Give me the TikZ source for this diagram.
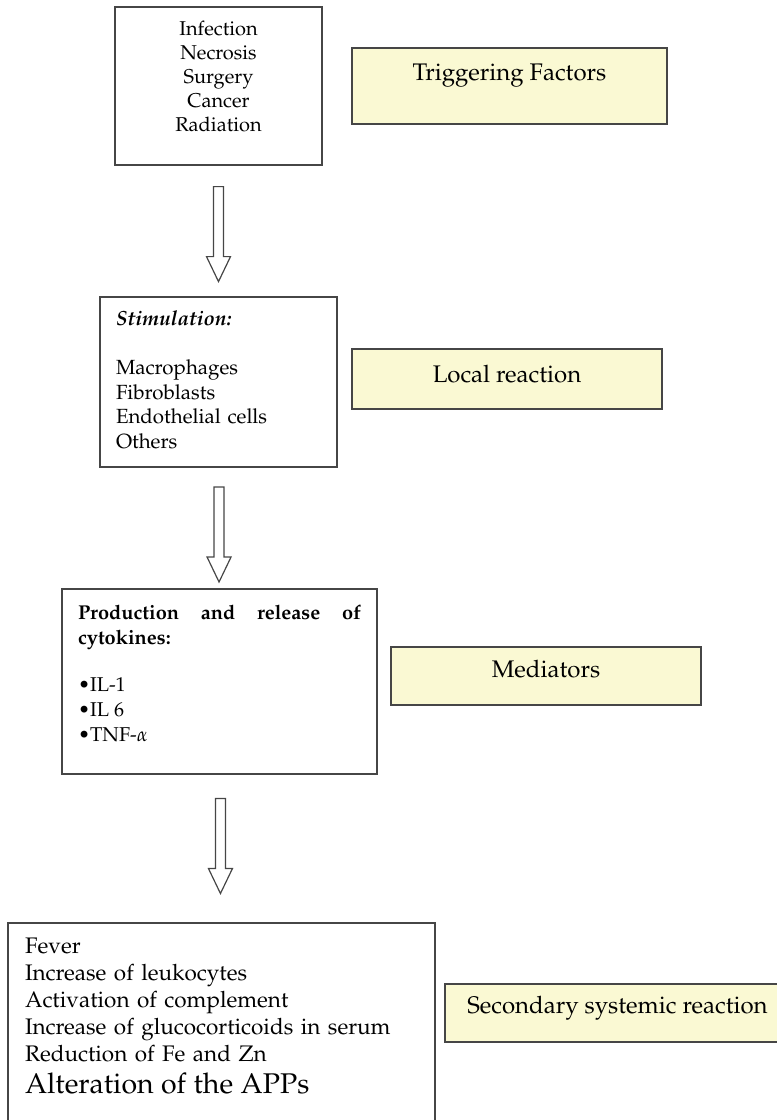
\documentclass[tikz,border=0pt]{standalone}
\usepackage[T1]{fontenc}
\usepackage{mathpazo}
\usepackage{tikz}
\usetikzlibrary{calc}

\definecolor{notefill}{RGB}{250,249,211}
\definecolor{edgegray}{RGB}{70,70,70}

\tikzset{
  stagebox/.style={rectangle,draw=edgegray,line width=1.8pt,fill=white,inner ysep=0pt,font=\fontsize{20}{24}\selectfont},
  notebox/.style={rectangle,draw=edgegray,line width=1.8pt,fill=notefill,inner sep=0pt,font=\fontsize{24}{28}\selectfont},
  hollow/.style={draw=edgegray,line width=1.2pt,fill=white,line join=miter}
}

\newcommand{\blockarrow}[1]{%
  \draw[hollow] (#1) ++(-5,-47) -- ++(0,70) -- ++(-7,0) -- ++(12,25) -- ++(12,-25) -- ++(-7,0) -- ++(0,-70) -- cycle;}

\begin{document}
\begin{tikzpicture}[x=1pt,y=-1pt]
		\useasboundingbox (0,0) rectangle (777,1120);

		%stage boxes
		\node[stagebox,minimum width=207pt,minimum height=158pt,align=center] (s1) at (218.5,86) {Infection\\Necrosis\\Surgery\\Cancer\\Radiation\\[-5pt]\mbox{}};
		\node[stagebox,font=\fontsize{20.5}{24.7}\selectfont,text width=205pt,inner xsep=16pt,minimum height=170pt,align=left] (s2) at (218.5,382) {\textbf{\textit{Stimulation:}}\\[24.7pt]Macrophages\\Fibroblasts\\Endothelial cells\\Others\\[-20pt]\mbox{}};
		\node[stagebox,font=\fontsize{20}{25}\selectfont,text width=283pt,inner xsep=16pt,minimum height=185pt,align=justify] (s3) at (219.5,681.5) {\textbf{Production and release of\linebreak cytokines:}\\[22pt]\textbullet IL-1\\\textbullet IL 6\\\textbullet TNF-$\alpha$\\[-8pt]\mbox{}};
		\node[stagebox,font=\fontsize{22.5}{27}\selectfont,text width=393pt,inner xsep=17pt,inner ysep=15pt,align=left,anchor=north] (s4) at (221.5,922) {Fever\\Increase of leukocytes\\Activation of complement\\Increase of glucocorticoids in serum\\Reduction of Fe and Zn\\[5pt]{\fontsize{28.5}{33}\selectfont Alteration of the APPs}\\[20pt]\mbox{}};

		%note boxes
		\node[notebox,minimum width=315pt,minimum height=76pt,text height=18pt,text depth=30pt] (f1) at (509.5,86) {Triggering Factors};
		\node[notebox,minimum width=310pt,minimum height=60pt,text height=18pt,text depth=12pt] (f2) at (507,379) {Local reaction};
		\node[notebox,minimum width=310pt,minimum height=58pt,text height=18pt,text depth=16pt] (f3) at (546,676) {Mediators};
		\node[notebox,minimum width=345pt,minimum height=58pt,text height=18pt,text depth=18pt] (f4) at (617.5,1013) {Secondary systemic reaction};

		%arrows
		\coordinate (a1) at ($(s1.south)!0.52!(s2.north)$);
		\coordinate (a2) at ($(s2.south)!0.55!(s3.north)$);
		\coordinate (a3) at ($(s3.south)!0.48!(s4.north)$);
		\blockarrow{a1}
		\blockarrow{a2}
		\blockarrow{a3}
\end{tikzpicture}
\end{document}
